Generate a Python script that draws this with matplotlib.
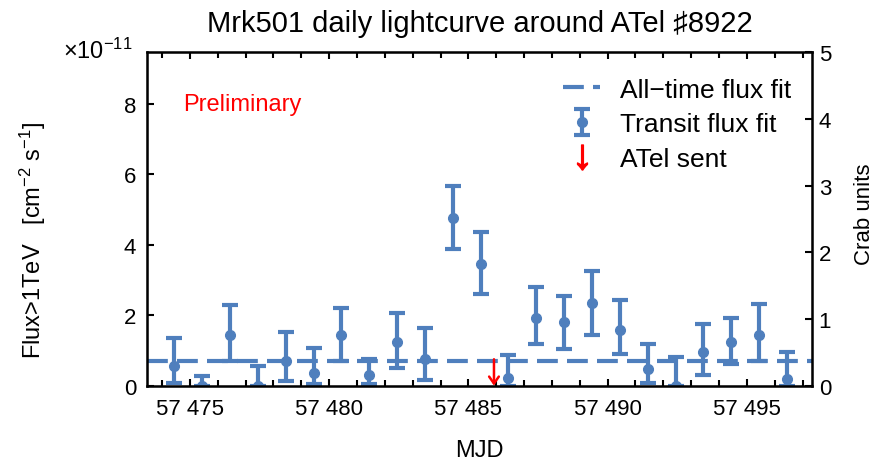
import matplotlib
matplotlib.use("Agg")
import matplotlib.pyplot as plt
from matplotlib.lines import Line2D
from matplotlib.ticker import FuncFormatter, MultipleLocator

plt.rcParams["font.family"] = ["Liberation Sans", "DejaVu Sans"]
plt.rcParams["mathtext.fontset"] = "custom"
plt.rcParams["mathtext.rm"] = "Liberation Sans"
plt.rcParams["mathtext.it"] = "Liberation Sans"

# transit times (MJD) and integral flux >1 TeV in units of 1e-11 cm^-2 s^-1
mjd = [57474.44, 57475.45, 57476.44, 57477.44, 57478.45, 57479.44, 57480.43,
       57481.44, 57482.45, 57483.44, 57484.45, 57485.46, 57486.43, 57487.44,
       57488.43, 57489.44, 57490.45, 57491.45, 57492.45, 57493.44, 57494.44,
       57495.45, 57496.45]
flux = [0.57, 0.00, 1.44, 0.00, 0.71, 0.36, 1.44, 0.30, 1.23, 0.76, 4.76, 3.45,
        0.21, 1.93, 1.80, 2.35, 1.58, 0.47, 0.00, 0.95, 1.23, 1.45, 0.19]
flux_upper = [1.35, 0.28, 2.29, 0.57, 1.52, 1.06, 2.21, 0.76, 2.06, 1.64, 5.66,
              4.37, 0.88, 2.79, 2.56, 3.25, 2.44, 1.18, 0.81, 1.74, 1.91, 2.32,
              0.97]
flux_lower = [0.08, 0.00, 0.69, 0.00, 0.14, 0.05, 0.71, 0.05, 0.50, 0.17, 3.88,
              2.61, 0.00, 1.18, 1.04, 1.45, 0.90, 0.08, 0.00, 0.30, 0.62, 0.71,
              0.00]

alltime_flux = 0.69
crab_flux = 1.894       # 1 Crab in the same units
atel_mjd = 57485.92
atel_len = 0.75

blue = "#4f7fbd"

yerr = [[f - lo for f, lo in zip(flux, flux_lower)],
        [hi - f for f, hi in zip(flux, flux_upper)]]

fig = plt.figure(figsize=(8.73, 4.64), dpi=100)
ax = fig.add_axes([0.1687, 0.1666, 0.7611, 0.7185])

ax.axhline(alltime_flux, color=blue, lw=3, ls=(0, (5, 2.2)),
           label="All\u2212time flux fit")
eb = ax.errorbar(mjd, flux, yerr=yerr, fmt="o", color=blue, ms=7,
                 elinewidth=3, capsize=6, capthick=3,
                 label="Transit flux fit")
ax.annotate("", xy=(atel_mjd, 0), xytext=(atel_mjd, atel_len),
            arrowprops=dict(arrowstyle="->,head_length=0.5,head_width=0.35",
                            color="red", lw=1.8, shrinkA=0, shrinkB=0))
atel_handle = Line2D([], [], ls="none", marker=r"$\downarrow$", color="red",
                     ms=18, label="ATel sent")

ax.set_xlim(57473.47, 57497.33)
ax.set_ylim(0, 5 * crab_flux)
ax.xaxis.set_major_locator(MultipleLocator(5))
ax.xaxis.set_minor_locator(MultipleLocator(1))
ax.xaxis.set_major_formatter(FuncFormatter(
    lambda v, p: f"{int(v) // 1000} {int(v) % 1000:03d}"))
ax.set_yticks([0, 2, 4, 6, 8])

for s in ax.spines.values():
    s.set_linewidth(1.8)
ax.tick_params(axis="x", which="both", direction="in", top=True,
               labelsize=16, pad=9, width=1.5)
ax.tick_params(axis="x", which="major", length=5)
ax.tick_params(axis="x", which="minor", length=4)
ax.tick_params(axis="y", direction="in", right=False, labelsize=16,
               pad=8, width=1.5, length=5)

ax2 = ax.twinx()
ax2.set_ylim(0, 5)
ax2.set_yticks([0, 1, 2, 3, 4, 5])
ax2.tick_params(axis="y", direction="in", labelsize=16, pad=5,
                width=1.5, length=5)
ax2.set_ylabel("Crab units", fontsize=16)
ax2.yaxis.set_label_coords(1.063, 0.518)

ax.set_xlabel("MJD", fontsize=17, labelpad=14)
ax.set_ylabel("Flux>1TeV   [cm$^{-2}$ s$^{-1}$]", fontsize=17)
ax.yaxis.set_label_coords(-0.15, 0.44)
ax.set_title("Mrk501 daily lightcurve around ATel \u266f8922", fontsize=21,
             pad=15)
fig.text(133 / 873, 1 - 59 / 464, r"$\times10^{-11}$", fontsize=17,
         ha="right", va="baseline")

ax.text(0.054, 0.845, "Preliminary", color="red", fontsize=17,
        transform=ax.transAxes, va="center")

ax.legend(handles=[ax.lines[0], eb, atel_handle], loc="upper right",
          bbox_to_anchor=(1.005, 0.995), frameon=False, fontsize=19,
          handlelength=1.4, handletextpad=0.75, labelspacing=0.4)

fig.savefig("out.png", dpi=100)
